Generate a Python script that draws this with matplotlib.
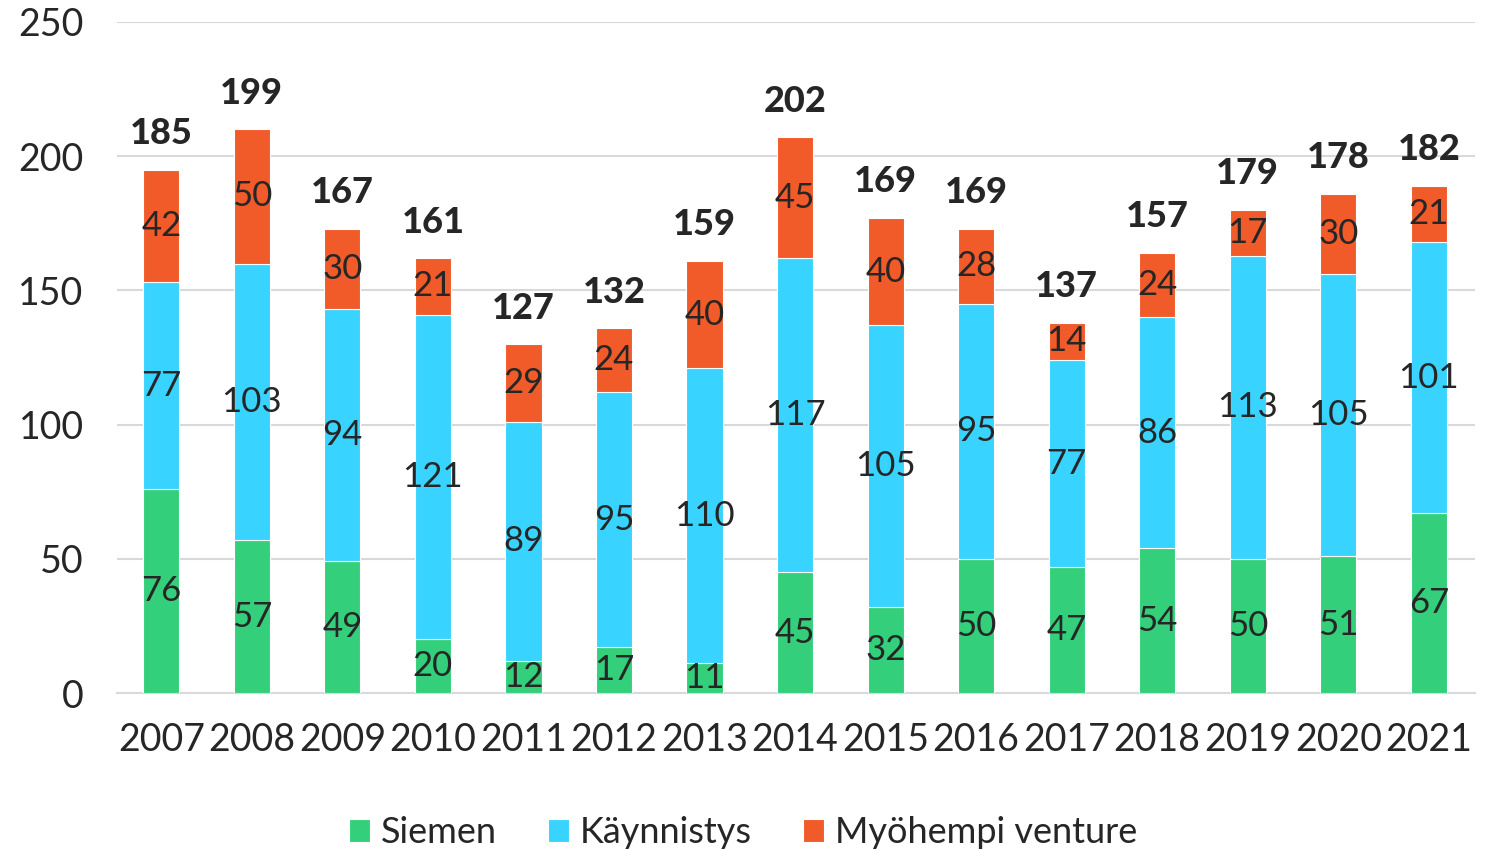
import matplotlib
matplotlib.use("Agg")
import matplotlib.pyplot as plt
import numpy as np

years = ['2007', '2008', '2009', '2010', '2011', '2012', '2013', '2014',
         '2015', '2016', '2017', '2018', '2019', '2020', '2021']
siemen = [76, 57, 49, 20, 12, 17, 11, 45, 32, 50, 47, 54, 50, 51, 67]
kaynnistys = [77, 103, 94, 121, 89, 95, 110, 117, 105, 95, 77, 86, 113, 105, 101]
myohempi = [42, 50, 30, 21, 29, 24, 40, 45, 40, 28, 14, 24, 17, 30, 21]
totals = [185, 199, 167, 161, 127, 132, 159, 202, 169, 169, 137, 157, 179, 178, 182]
series_names = ['Siemen', 'Käynnistys', 'Myöhempi venture']

colors = ['#33CF7A', '#38D3FE', '#F15A29']
text_col = '#262626'
grid_col = '#D9D9D9'

plt.rcParams['font.family'] = ['Lato', 'DejaVu Sans']

fig = plt.figure(figsize=(14.86, 8.52), dpi=100)
ax = fig.add_axes([0.0787, 0.1866, 0.9139, 0.7876])

x = np.arange(len(years))
width = 0.4
bottom = np.zeros(len(years))
handles = []
for vals, col, name in zip([siemen, kaynnistys, myohempi], colors, series_names):
    vals = np.array(vals)
    bars = ax.bar(x, vals, width, bottom=bottom, color=col, edgecolor='white',
                  linewidth=0.8, label=name, zorder=3)
    handles.append(bars)
    for xi, b, v in zip(x, bottom, vals):
        ax.text(xi, b + v / 2, str(v), ha='center', va='center', fontsize=25,
                color=text_col, zorder=4)
    bottom = bottom + vals

# total labels sit above the stacked bars
for xi, top, t in zip(x, bottom, totals):
    ax.annotate(str(t), (xi, top), xytext=(0, 14), textcoords='offset points',
                ha='center', va='bottom', fontsize=26, fontweight='black',
                color=text_col)

ax.set_xlim(-0.49, 14.51)
ax.set_ylim(0, 250)
ax.set_yticks([0, 50, 100, 150, 200, 250])
ax.set_xticks(x)
ax.set_xticklabels(years)
ax.yaxis.grid(True, color=grid_col, linewidth=1.5, zorder=0)
ax.set_axisbelow(True)
for s in ['top', 'right', 'left']:
    ax.spines[s].set_visible(False)
ax.spines['bottom'].set_color(grid_col)
ax.spines['bottom'].set_linewidth(1.5)
ax.tick_params(axis='both', length=0, labelsize=27, colors=text_col)
ax.tick_params(axis='y', pad=24)
ax.tick_params(axis='x', pad=21)

fig.legend(handles, series_names, loc='lower center', bbox_to_anchor=(0.5, -0.035),
           ncol=3, frameon=False, fontsize=26, handlelength=0.6, handleheight=0.6,
           handletextpad=0.3, columnspacing=1.4, labelcolor=text_col)

fig.savefig('out.png', dpi=100)
